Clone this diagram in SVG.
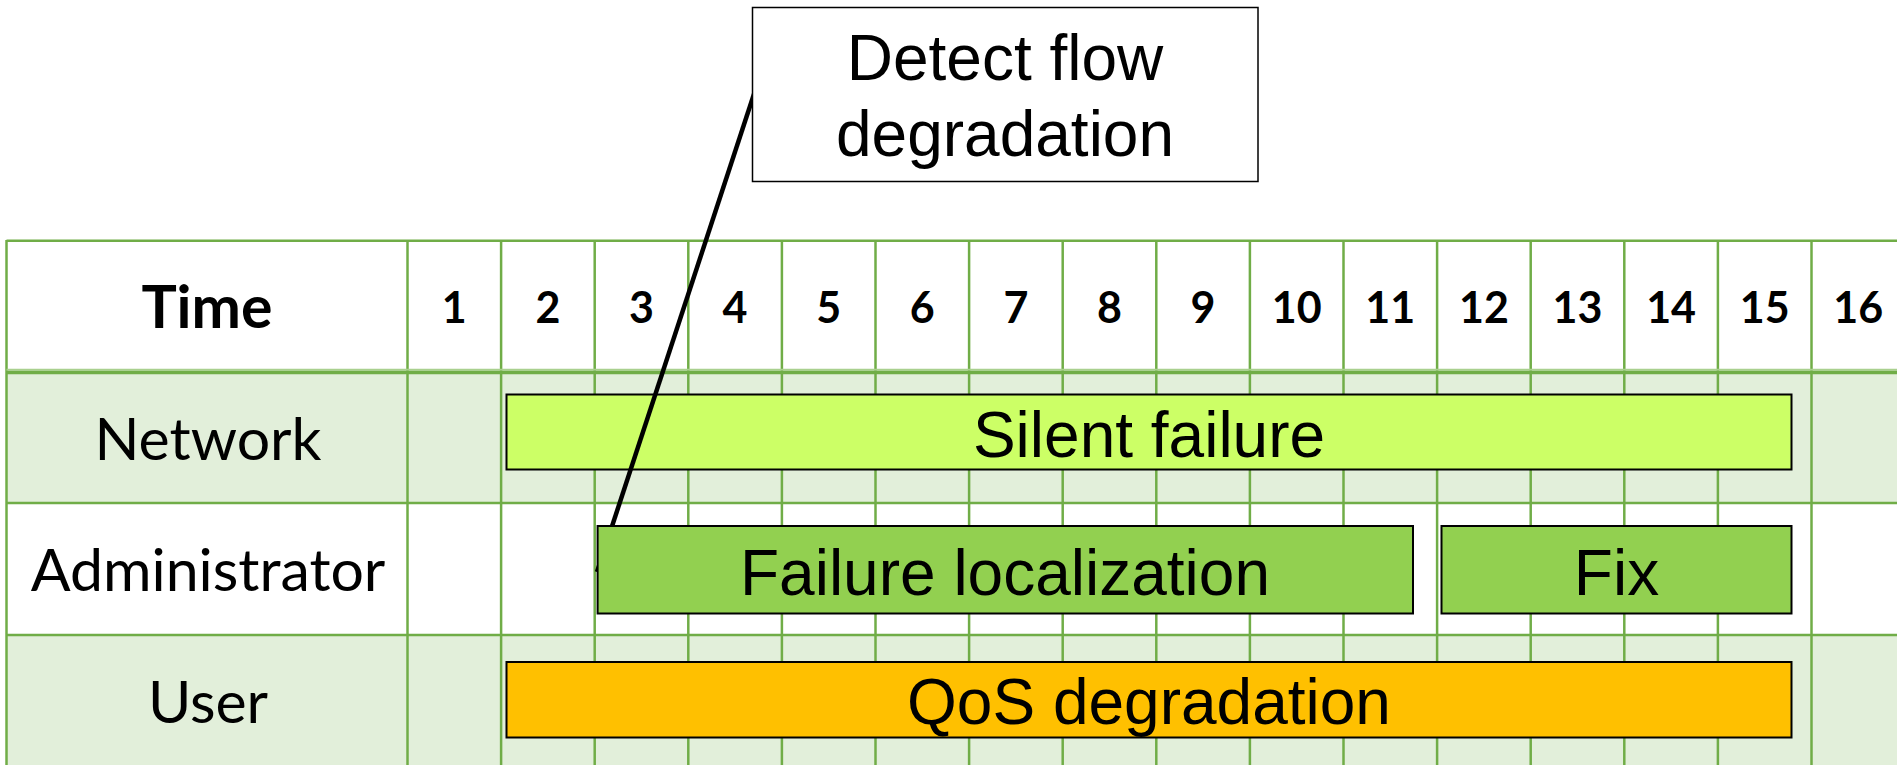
<svg xmlns="http://www.w3.org/2000/svg" width="1897" height="765" viewBox="0 0 1897 765">
<style>
.grid{stroke:#70AD47;stroke-width:2.5;fill:none}
.hdr{font-family:Lato,"Liberation Sans",sans-serif;font-weight:bold;text-anchor:middle;fill:#000}
.lbl{font-family:Lato,"Liberation Sans",sans-serif;font-size:59px;text-anchor:middle;fill:#000}
.bar{stroke:#000;stroke-width:2}
.btxt{font-family:"Liberation Sans",Arial,sans-serif;font-size:64px;text-anchor:middle;fill:#000}
</style>
<rect width="1897" height="765" fill="#fff"/>
<g id="table">
<rect x="6.5" y="240.7" width="1900" height="131" fill="#fff"/>
<rect x="6.5" y="371.5" width="1900" height="131.5" fill="#E2EFDA"/>
<rect x="6.5" y="503" width="1900" height="132" fill="#fff"/>
<rect x="6.5" y="635" width="1900" height="140" fill="#E2EFDA"/>
<g class="grid">
<line x1="6.5" y1="240.7" x2="1897" y2="240.7"/>
<line x1="6.5" y1="503" x2="1897" y2="503"/>
<line x1="6.5" y1="635" x2="1897" y2="635"/>
<line x1="6.5" y1="240" x2="6.5" y2="765"/>
<line x1="407.5" y1="240" x2="407.5" y2="765"/>
<line x1="501.1" y1="240" x2="501.1" y2="765"/>
<line x1="594.7" y1="240" x2="594.7" y2="765"/>
<line x1="688.3" y1="240" x2="688.3" y2="765"/>
<line x1="781.9" y1="240" x2="781.9" y2="765"/>
<line x1="875.5" y1="240" x2="875.5" y2="765"/>
<line x1="969.1" y1="240" x2="969.1" y2="765"/>
<line x1="1062.7" y1="240" x2="1062.7" y2="765"/>
<line x1="1156.3" y1="240" x2="1156.3" y2="765"/>
<line x1="1249.9" y1="240" x2="1249.9" y2="765"/>
<line x1="1343.5" y1="240" x2="1343.5" y2="765"/>
<line x1="1437.1" y1="240" x2="1437.1" y2="765"/>
<line x1="1530.7" y1="240" x2="1530.7" y2="765"/>
<line x1="1624.3" y1="240" x2="1624.3" y2="765"/>
<line x1="1717.9" y1="240" x2="1717.9" y2="765"/>
<line x1="1811.5" y1="240" x2="1811.5" y2="765"/>
</g>
<line x1="6.5" y1="369.8" x2="1897" y2="369.8" stroke="#A9D08E" stroke-width="2"/>
<line x1="6.5" y1="372.5" x2="1897" y2="372.5" stroke="#70AD47" stroke-width="3.5"/>
<text class="hdr" x="207" y="328" font-size="59">Time</text>
<g class="hdr" font-size="43">
<text x="454.3" y="323">1</text>
<text x="547.9" y="323">2</text>
<text x="641.5" y="323">3</text>
<text x="735.1" y="323">4</text>
<text x="828.7" y="323">5</text>
<text x="922.3" y="323">6</text>
<text x="1015.9" y="323">7</text>
<text x="1109.5" y="323">8</text>
<text x="1203.1" y="323">9</text>
<text x="1296.7" y="323">10</text>
<text x="1390.3" y="323">11</text>
<text x="1483.9" y="323">12</text>
<text x="1577.5" y="323">13</text>
<text x="1671.1" y="323">14</text>
<text x="1764.7" y="323">15</text>
<text x="1858.3" y="323">16</text>
</g>
<text class="lbl" x="208" y="460">Network</text>
<text class="lbl" x="208" y="591">Administrator</text>
<text class="lbl" x="208" y="723">User</text>
</g>
<g id="silent-failure">
<rect class="bar" x="506.5" y="394.5" width="1285" height="75" fill="#CCFF66"/>
<text class="btxt" x="1149" y="457">Silent failure</text>
</g>
<g id="connectors">
<line x1="754" y1="94" x2="597" y2="572" stroke="#000" stroke-width="4.5"/>
</g>
<g id="failure-localization">
<rect class="bar" x="597.6" y="526" width="815.4" height="87.5" fill="#92D050"/>
<text class="btxt" x="1005" y="595">Failure localization</text>
</g>
<g id="fix">
<rect class="bar" x="1441.5" y="526" width="350" height="87.5" fill="#92D050"/>
<text class="btxt" x="1616.5" y="595">Fix</text>
</g>
<g id="qos-degradation">
<rect class="bar" x="506.5" y="662" width="1285" height="75.5" fill="#FFC000"/>
<text class="btxt" x="1149" y="724">QoS degradation</text>
</g>
<g id="callout">
<rect x="752.5" y="7.5" width="505.5" height="174" fill="#fff" stroke="#000" stroke-width="1.5"/>
<text class="btxt" x="1005" y="80">Detect flow</text>
<text class="btxt" x="1005" y="156">degradation</text>
</g>
</svg>
